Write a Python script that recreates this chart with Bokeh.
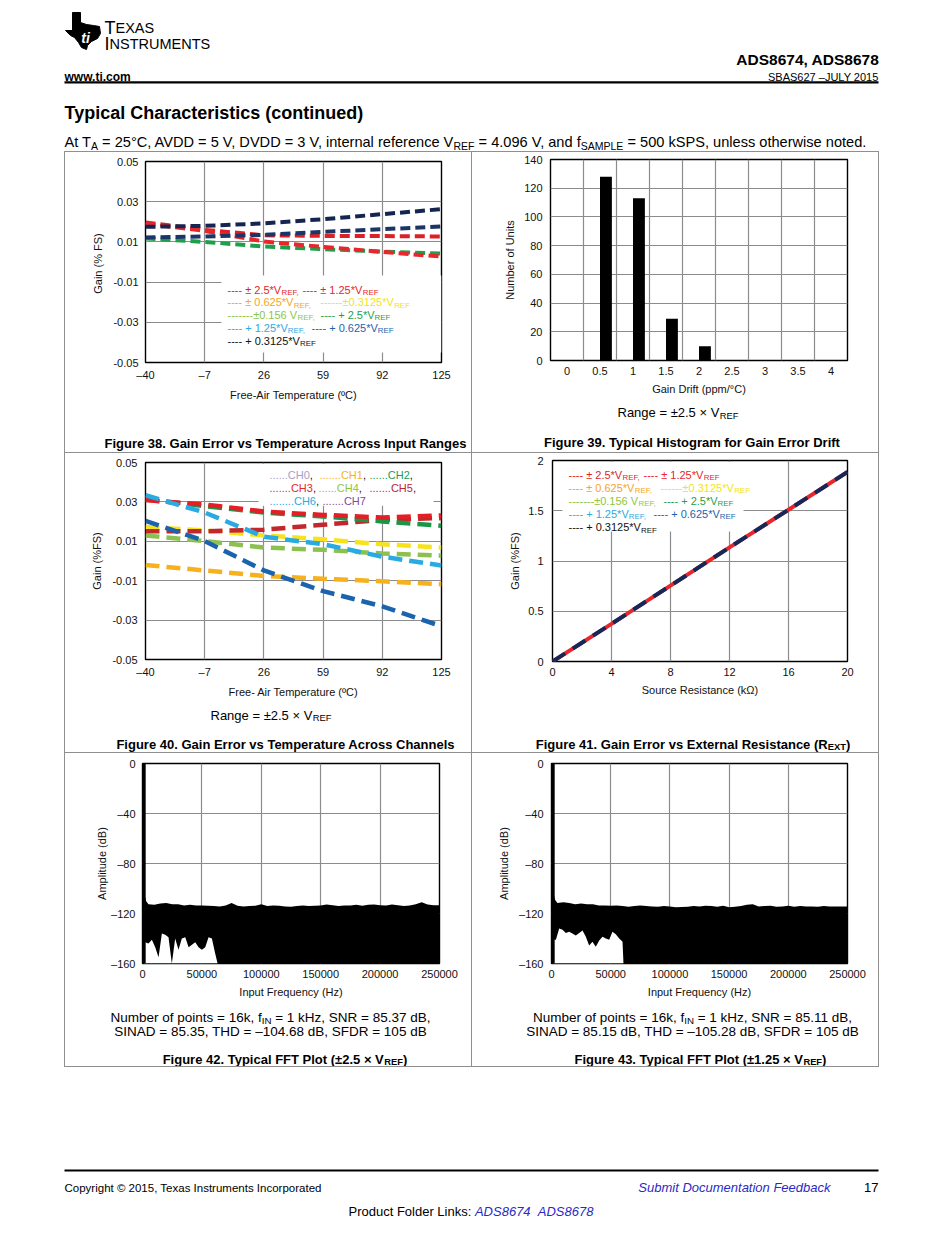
from bokeh.plotting import figure
from bokeh.models import Range1d, FixedTicker, ColumnDataSource, Spacer
from bokeh.layouts import column, row
from bokeh.transform import dodge
from bokeh.core.properties import value
from bokeh.embed import file_html
from bokeh.resources import INLINE

FONT = "Liberation Sans"
INK = "#111111"
GRID_C = "#8c8c8c"
RULE_C = "#8f8f8f"
LINK_C = "#2a2ac4"

# ============================== DATA ==============================
# Fig 38 - Gain error vs temperature across input ranges (%FS)
TEMP_C = [-40, -7, 26, 59, 92, 125]
TEMP_TICK_LABELS = ["\u201340", "\u20137", "26", "59", "92", "125"]
GAIN_TICKS = [-0.05, -0.03, -0.01, 0.01, 0.03, 0.05]
GAIN_TICK_LABELS = ["-0.05", "-0.03", "-0.01", "0.01", "0.03", "0.05"]
G38_BIP_2P5 = [0.0197, 0.0160, 0.0133, 0.0130, 0.0129, 0.0127]
G38_BIP_1P25 = [0.0190, 0.0155, 0.0102, 0.0075, 0.0050, 0.0027]
G38_UNI_2P5 = [0.0117, 0.0100, 0.0077, 0.0064, 0.0052, 0.0042]
G38_UNI_0P625 = [0.0122, 0.0127, 0.0135, 0.0150, 0.0163, 0.0177]
G38_UNI_0P3125 = [0.0175, 0.0180, 0.0192, 0.0213, 0.0238, 0.0263]

RANGE_LEG_MAIN = ["---- \u00b1 2.5*V", "---- \u00b1 1.25*V", "---- \u00b1 0.625*V", "------\u00b10.3125*V",
                  "-------\u00b10.156 V", "---- + 2.5*V", "---- + 1.25*V", "---- + 0.625*V", "---- + 0.3125*V"]
RANGE_LEG_SUB = ["REF,", "REF", "REF,", "REF", "REF,", "REF", "REF,", "REF", "REF"]
RANGE_LEG_COLORS = ["#dd1f26", "#e8262b", "#f5a524", "#f3e21c", "#8dc63f", "#1f9f4a", "#2fa9e1", "#1f63ad", "#111111"]

# Fig 39 - histogram of gain error drift
DRIFT_BINS = [0, 0.5, 1, 1.5, 2, 2.5, 3, 3.5, 4]
DRIFT_TICK_LABELS = ["0", "0.5", "1", "1.5", "2", "2.5", "3", "3.5", "4"]
DRIFT_COUNTS = [0, 128, 113, 29, 10, 0, 0, 0, 0]
COUNT_TICKS = [0, 20, 40, 60, 80, 100, 120, 140]
COUNT_TICK_LABELS = ["0", "20", "40", "60", "80", "100", "120", "140"]

# Fig 40 - Gain error vs temperature across channels (%FS)
G40_CH0 = [0.0173, 0.0155, 0.0130, 0.0110, 0.0085, 0.0068]
G40_CH1 = [-0.0020, -0.0048, -0.0076, -0.0090, -0.0103, -0.0118]
G40_CH2 = [0.0312, 0.0279, 0.0246, 0.0226, 0.0201, 0.0179]
G40_CH3 = [0.0309, 0.0287, 0.0251, 0.0234, 0.0221, 0.0231]
G40_CH4 = [0.0130, 0.0101, 0.0068, 0.0057, 0.0038, 0.0027]
G40_CH5 = [0.0151, 0.0151, 0.0159, 0.0184, 0.0209, 0.0218]
G40_CH6 = [0.0334, 0.0246, 0.0123, 0.0085, 0.0022, -0.0023]
G40_CH7 = [0.0204, 0.0101, -0.0048, -0.0153, -0.0230, -0.0331]
CH_NAMES = ["CH0", "CH1", "CH2", "CH3", "CH4", "CH5", "CH6", "CH7"]
CH_LINE_COLORS = ["#f7e31d", "#f6b11c", "#1a9647", "#e41e26", "#8cc152", "#c1272d", "#29abe2", "#1c63ad"]
CH_LEG_COLORS = ["#a3a0c9", "#f2b41c", "#1a9c55", "#e8262b", "#8cc63f", "#c0262d", "#29abe2", "#7d4a9e"]
CH_LEG_DOTS = ["......", ".......", "......", ".......", "......", ".......", "........", "......."]

# Fig 41 - Gain error vs external resistance
RSRC_KOHM = [0, 4, 8, 12, 16, 20]
RSRC_TICK_LABELS = ["0", "4", "8", "12", "16", "20"]
G41_BIP_2P5 = [0.0, 0.375, 0.755, 1.135, 1.51, 1.885]
G41_UNI_0P3125 = [0.0, 0.375, 0.755, 1.135, 1.51, 1.885]
G41_TICKS = [0, 0.5, 1, 1.5, 2]
G41_TICK_LABELS = ["0", "0.5", "1", "1.5", "2"]

# Fig 42 / 43 - FFT (envelopes)
FREQ_TICKS = [0, 50000, 100000, 150000, 200000, 250000]
FREQ_TICK_LABELS = ["0", "50000", "100000", "150000", "200000", "250000"]
DB_TICKS = [-160, -120, -80, -40, 0]
DB_TICK_LABELS = ["\u2013160", "\u2013120", "\u201380", "\u201340", "0"]
FIN_HZ = [1000]
FUND_DB = [0]
FFT_UP_HZ = [1500, 3000, 5000, 10000, 15000, 20000, 25000, 30000, 35000, 40000, 45000, 50000,
             55000, 60000, 65000, 70000, 75000, 80000, 85000, 90000, 95000, 100000, 105000, 110000,
             115000, 120000, 125000, 130000, 135000, 140000, 145000, 150000, 155000, 160000, 165000,
             170000, 175000, 180000, 185000, 190000, 195000, 200000, 205000, 210000, 215000, 220000,
             225000, 230000, 235000, 240000, 245000, 250000]
F42_UP_DB = [-104, -110, -112.5, -113, -112, -111.5, -112.5, -112.5, -113.5, -113, -113.5, -113.5,
             -113.8, -114, -114.3, -113.5, -111.5, -113.8, -114.3, -114, -113.8, -112.5, -114, -113.5,
             -113.8, -114.3, -114.5, -114, -113.5, -114, -113.8, -113.5, -112.7, -113.3, -114,
             -113.5, -113.5, -113, -113.8, -113, -112.7, -113.3, -113.5, -112.7, -113.3, -114,
             -113.5, -112.5, -111, -112.7, -113.3, -113.3]
F43_UP_DB = [-103, -109, -111.5, -111, -111.5, -112.5, -112, -112.5, -112.5, -113.5, -113.5, -113.8,
             -113.5, -114, -114.5, -114, -113.5, -114, -114.3, -114.5, -114, -114.3, -115, -114.8,
             -114.5, -114, -114.3, -113.8, -114, -114.5, -113.8, -115, -114.5, -114, -113,
             -112.5, -114.3, -114, -113.8, -114.5, -114.3, -113.8, -114.5, -114, -114.3, -114.3,
             -114.5, -114, -114.3, -114.3, -114.3, -114.3]
F42_LO_HZ = [1500, 2200, 5000, 7900, 10700, 13500, 16300, 19100, 21900, 24700, 27500, 30300,
             33100, 36000, 38800, 41600, 44400, 47200, 50000, 52800, 55600, 58400, 61200, 63200]
F42_LO_DB = [-143, -143, -144, -141, -147, -155, -136, -137, -139, -160, -140, -149,
             -140, -139, -147, -145, -143, -147, -149, -147, -139, -140, -152, -160]
F43_LO_HZ = [1500, 3700, 6500, 9300, 12100, 14900, 17700, 20500, 23400, 26200, 29000, 31800,
             34600, 37400, 40300, 43100, 45900, 48700, 51500, 54300, 57200, 60000, 60800]
F43_LO_DB = [-141, -141, -132, -133, -135.5, -134.5, -136, -137.5, -135.5, -133.5, -138.5, -145.5,
             -142.5, -146.5, -141.5, -138.5, -140, -141, -134.5, -136.5, -140, -142.5, -160]

# ============================== TEXT METRICS (Arial / Liberation Sans) ==============================
_ASCII = " !\"#$%&'()*+,-./0123456789:;<=>?@ABCDEFGHIJKLMNOPQRSTUVWXYZ[\\]^_`abcdefghijklmnopqrstuvwxyz{|}~"
_REG = ([278, 278, 355, 556, 556, 889, 667, 191, 333, 333, 389, 584, 278, 333, 278, 278] + [556] * 10 +
        [278, 278, 584, 584, 584, 556, 1015] +
        [667, 667, 722, 722, 667, 611, 778, 722, 278, 500, 667, 556, 833, 722, 778, 667, 778, 722, 667, 611,
         722, 667, 944, 667, 667, 611] + [278, 278, 278, 469, 556, 333] +
        [556, 556, 500, 556, 556, 278, 556, 556, 222, 222, 500, 222, 833, 556, 556, 556, 556, 333, 500, 278,
         556, 500, 722, 500, 500, 500] + [334, 260, 334, 584])
_BOLD = ([278, 333, 474, 556, 556, 889, 722, 238, 333, 333, 389, 584, 278, 333, 278, 278] + [556] * 10 +
         [333, 333, 584, 584, 584, 611, 975] +
         [722, 722, 722, 722, 667, 611, 778, 722, 278, 556, 722, 611, 833, 722, 778, 667, 778, 722, 667, 611,
          722, 667, 944, 667, 667, 611] + [333, 278, 333, 584, 556, 333] +
         [556, 611, 556, 611, 556, 333, 611, 611, 278, 278, 556, 278, 889, 611, 611, 611, 611, 389, 556, 333,
          611, 556, 778, 556, 556, 500] + [389, 280, 389, 584])
_EXTRA = {"\u00b0": 400, "\u00ba": 365, "\u00b1": 584, "\u00d7": 584, "\u2013": 556, "\u03a9": 768, "\u00a9": 737}
REG_W = dict(zip(_ASCII, _REG)); REG_W.update(_EXTRA)
BOLD_W = dict(zip(_ASCII, _BOLD)); BOLD_W.update(_EXTRA)
KERN = {"AT": -74, "AV": -74, "AW": -37, "AY": -74, "Av": -18, "Aw": -18, "Ay": -18,
        "F,": -111, "F.": -111, "FA": -55, "LT": -74, "LV": -74, "LW": -74, "LY": -74, "Ly": -37,
        "P,": -129, "P.": -129, "PA": -74, "RT": -18, "RV": -18, "RW": -18, "RY": -18,
        "T,": -111, "T.": -111, "T-": -55, "TA": -74, "Ta": -111, "Tc": -111, "Te": -111, "Ti": -37,
        "To": -111, "Tr": -37, "Ts": -111, "Tu": -37, "Tw": -55, "Ty": -55,
        "V,": -92, "V.": -92, "V-": -55, "VA": -74, "Va": -74, "Ve": -55, "Vi": -18, "Vo": -55,
        "Vr": -37, "Vu": -37, "Vy": -37, "W,": -55, "W.": -55, "WA": -37, "Wa": -37, "We": -18,
        "Y,": -129, "Y.": -129, "YA": -74, "Ya": -74, "Ye": -92, "Yo": -92,
        "r,": -55, "r.": -55, "v,": -74, "v.": -74, "w,": -55, "w.": -55, "y,": -74, "y.": -74,
        "11": -74, " A": -55, "A ": -55, " T": -18, " Y": -18}
SUB_SCALE = 0.72
SUB_DROP = 0.25


def tw(s, size, bold=False):
    tbl = BOLD_W if bold else REG_W
    w = sum(tbl.get(ch, 556) for ch in s)
    w += sum(KERN.get(s[i:i + 2], 0) for i in range(len(s) - 1))
    return w * size / 1000.0


def rich(parts, x, y, size, align="left", color="#000000", style="normal"):
    items, total = [], 0.0
    for part in parts:
        t = part[0]
        sub = bool(part[1]) if len(part) > 1 else False
        c = part[2] if len(part) > 2 and part[2] else color
        st = part[3] if len(part) > 3 and part[3] else style
        fs = size * SUB_SCALE if sub else size
        bold = "bold" in st
        w = tw(t, fs, bold)
        items.append((t, sub, c, st, fs, bold, w))
        total += w
    cx = x - total / 2.0 if align == "center" else (x - total if align == "right" else x)
    out = []
    for t, sub, c, st, fs, bold, w in items:
        core = t.strip(" ")
        lead = len(t) - len(t.lstrip(" "))
        if core:
            out.append(dict(x=cx + tw(" " * lead, fs, bold), y=y + (size * SUB_DROP if sub else 0.0),
                            text=core, size="%.2fpx" % fs, style=st, color=c))
        cx += w
    return out


def put_text(p, rows, mx=None, my=None):
    d = dict(x=[], y=[], text=[], size=[], style=[], color=[])
    for r in rows:
        d["x"].append(mx(r["x"]) if mx else r["x"])
        d["y"].append(my(r["y"]) if my else r["y"])
        for k in ("text", "size", "style", "color"):
            d[k].append(r[k])
    p.text(x="x", y="y", text="text", source=ColumnDataSource(d), text_font=value(FONT),
           text_font_size="size", text_font_style="style", text_color="color",
           text_align="left", text_baseline="alphabetic")


def no_align(p):
    if "frame_align" in p.properties():
        p.frame_align = False
    return p


def canvas(x0, y0, w, h):
    p = figure(width=w, height=h, x_range=Range1d(x0, x0 + w), y_range=Range1d(y0 + h, y0),
               x_axis_type=None, y_axis_type=None, tools="", toolbar_location=None,
               output_backend="svg", min_border=0, outline_line_color=None,
               background_fill_color="white", border_fill_color="white")
    return no_align(p)


def mapper(frame, xr, yr):
    fl, ft, fw, fh = frame
    return (lambda px: xr[0] + (px - fl) / fw * (xr[1] - xr[0]),
            lambda py: yr[1] - (py - ft) / fh * (yr[1] - yr[0]))


def make_chart(cell, size, frame, xr, yr, xt, xl, yt, yl, xg, yg, xtitle, ytitle,
               ystand=(7, 6), xstand=(6, 5)):
    cx, cy = cell
    w, h = size
    fl, ft, fw, fh = frame
    left, top = fl - cx, ft - cy
    right, bottom = w - left - fw, h - top - fh
    p = figure(width=w, height=h, x_range=Range1d(*xr), y_range=Range1d(*yr), tools="",
               toolbar_location=None, output_backend="svg",
               min_border_left=left, min_border_right=right, min_border_top=top, min_border_bottom=bottom,
               background_fill_color="white", border_fill_color="white",
               outline_line_color="black", outline_line_width=1.4)
    no_align(p)
    p.xaxis.ticker = FixedTicker(ticks=xt)
    p.xaxis.major_label_overrides = dict(zip(xt, xl))
    p.yaxis.ticker = FixedTicker(ticks=yt)
    p.yaxis.major_label_overrides = dict(zip(yt, yl))
    p.xaxis.axis_label = xtitle
    p.yaxis.axis_label = ytitle
    for ax in list(p.xaxis) + list(p.yaxis):
        ax.axis_line_color = None
        ax.major_tick_line_color = None
        ax.minor_tick_line_color = None
        ax.major_tick_in = 0
        ax.major_tick_out = 0
        ax.minor_tick_in = 0
        ax.minor_tick_out = 0
        ax.major_label_text_font = FONT
        ax.major_label_text_font_size = "11px"
        ax.major_label_text_color = INK
        ax.axis_label_text_font = FONT
        ax.axis_label_text_font_size = "11px"
        ax.axis_label_text_font_style = "normal"
        ax.axis_label_text_color = INK
    p.yaxis.major_label_standoff = ystand[0]
    p.yaxis.axis_label_standoff = ystand[1]
    p.xaxis.major_label_standoff = xstand[0]
    p.xaxis.axis_label_standoff = xstand[1]
    p.xgrid.ticker = FixedTicker(ticks=xg)
    p.ygrid.ticker = FixedTicker(ticks=yg)
    for g in list(p.xgrid) + list(p.ygrid):
        g.grid_line_color = GRID_C
        g.grid_line_width = 1.2
    return p, mapper(frame, xr, yr)


def range_legend(origin, pitch, col2):
    ox, oy = origin
    rows = []
    layout = [[0, 1], [2, 3], [4, 5], [6, 7], [8]]
    for r, idxs in enumerate(layout):
        y = oy + r * pitch
        for j, i in enumerate(idxs):
            x = ox + (col2[r] if j == 1 else 0)
            rows += rich([(RANGE_LEG_MAIN[i], False, RANGE_LEG_COLORS[i]),
                          (RANGE_LEG_SUB[i], True, RANGE_LEG_COLORS[i])], x, y, 11)
    return rows


# ============================== HEADER ==============================
hdr = canvas(8, 8, 934, 143)
TI_LOGO_X = [72, 80, 80, 86, 93, 99, 100, 97, 91, 87, 86, 81, 78, 74, 70, 65, 72]
TI_LOGO_Y = [12, 12, 22, 24, 25, 26, 33, 38, 41, 45, 49, 47, 42, 37, 35, 30, 30]
hdr.patch(TI_LOGO_X, TI_LOGO_Y, color="black")
hdr.line([64, 878], [81.8, 81.8], line_width=2.2, color="black")
h_rows = []
h_rows += rich([("ti", False, "white", "bold italic")], 85, 37, 14, align="center")
h_rows += rich([("T",)], 104, 27, 18)
h_rows += rich([("EXAS",)], 104 + tw("T", 18), 27, 14.5)
h_rows += rich([("I",)], 104, 43, 18)
h_rows += rich([("NSTRUMENTS",)], 104 + tw("I", 18), 43, 14.5)
h_rows += rich([("ADS8674, ADS8678",)], 878, 59, 15.5, align="right", style="bold")
h_rows += rich([("www.ti.com",)], 64, 76.5, 12, style="bold")
h_rows += rich([("SBAS627 \u2013JULY 2015",)], 878, 76.5, 11, align="right")
h_rows += rich([("Typical Characteristics (continued)",)], 64, 112.5, 18, style="bold")
h_rows += rich([("At T",), ("A", True), (" = 25\u00b0C, AVDD = 5 V, DVDD = 3 V, internal reference V",),
                ("REF", True), (" = 4.096 V, and f",), ("SAMPLE", True),
                (" = 500 kSPS, unless otherwise noted.",)], 64, 141.5, 14.6)
put_text(hdr, h_rows)

# ============================== FIG 38 ==============================
XR_T, YR_G = (-40, 125), (-0.05, 0.05)
c38, (mx38, my38) = make_chart((65, 152), (406, 253), (145, 161, 296, 201), XR_T, YR_G,
                               TEMP_C, TEMP_TICK_LABELS, GAIN_TICKS, GAIN_TICK_LABELS,
                               TEMP_C[1:-1], GAIN_TICKS[1:-1], "Free-Air Temperature (\u00baC)", "Gain  (% FS)")
c38.quad(left=mx38(221), right=mx38(441), top=my38(275), bottom=my38(352), fill_color="white", line_color=None)
for ys, col in [(G38_BIP_2P5, "#dd1f26"), (G38_UNI_2P5, "#1f9f4a"), (G38_BIP_1P25, "#e8262b"),
                (G38_UNI_0P625, "#1b3566"), (G38_UNI_0P3125, "#14254f")]:
    c38.line(TEMP_C, ys, line_color=col, line_width=4, line_dash="10 5")
put_text(c38, range_legend((227, 289), 12.8, [75, 93, 93, 84]), mx38, my38)
t38 = canvas(65, 405, 406, 47)
put_text(t38, rich([("Figure 38. Gain Error vs Temperature Across Input Ranges",)], 284.5, 442.5, 13,
                   align="center", style="bold"))

# ============================== FIG 39 ==============================
c39, _ = make_chart((472, 152), (406, 248), (550, 159, 297, 201), (-0.25, 4.25), (0, 140),
                    DRIFT_BINS, DRIFT_TICK_LABELS, COUNT_TICKS, COUNT_TICK_LABELS,
                    [b + 0.25 for b in DRIFT_BINS[:-1]], COUNT_TICKS[1:-1],
                    "Gain Drift (ppm/\u00b0C)", "Number of Units", ystand=(8, 5))
c39.vbar(x=dodge("bin", 0.09, range=c39.x_range), width=0.18, top="count",
         source=ColumnDataSource(dict(bin=DRIFT_BINS, count=DRIFT_COUNTS)),
         fill_color="black", line_color=None)
t39 = canvas(472, 400, 406, 52)
t39_rows = rich([("Range = \u00b12.5 \u00d7 V",), ("REF", True)], 677.5, 412, 13, align="center")
t39_rows += rich([("Figure 39. Typical Histogram for Gain Error Drift",)], 691.5, 441.5, 13,
                 align="center", style="bold")
put_text(t39, t39_rows)

# ============================== FIG 40 ==============================
c40, (mx40, my40) = make_chart((65, 453), (406, 247), (145, 462, 296, 200), XR_T, YR_G,
                               TEMP_C, TEMP_TICK_LABELS, GAIN_TICKS, GAIN_TICK_LABELS,
                               TEMP_C[1:-1], GAIN_TICKS[1:-1], "Free- Air Temperature (\u00baC)", "Gain (%FS)",
                               ystand=(8, 6))
c40.quad(left=mx40(258), right=mx40(433), top=my40(463.5), bottom=my40(506), fill_color="white", line_color=None)
CH_SERIES = [G40_CH0, G40_CH1, G40_CH2, G40_CH3, G40_CH4, G40_CH5, G40_CH6, G40_CH7]
for i in [1, 4, 0, 5, 2, 3, 6, 7]:
    c40.line(TEMP_C, CH_SERIES[i], line_color=CH_LINE_COLORS[i], line_width=4.5, line_dash="14 7")
leg40 = []
CH_LEG_LAYOUT = [[0, 1, 2], [3, 4, 5], [6, 7]]
CH_LEG_X = [[269, 319, 369], [269, 318, 369], [269, 322]]
CH_LEG_Y = [475, 488, 501]
for r, idxs in enumerate(CH_LEG_LAYOUT):
    for j, i in enumerate(idxs):
        parts = [(CH_LEG_DOTS[i] + CH_NAMES[i], False, CH_LEG_COLORS[i])]
        if i != 7:
            parts.append((",", False, INK))
        leg40 += rich(parts, CH_LEG_X[r][j], CH_LEG_Y[r], 11)
put_text(c40, leg40, mx40, my40)
t40 = canvas(65, 700, 406, 52)
t40_rows = rich([("Range = \u00b12.5 \u00d7 V",), ("REF", True)], 270.5, 714.5, 13, align="center")
t40_rows += rich([("Figure 40. Gain Error vs Temperature Across Channels",)], 284.5, 743.5, 13,
                 align="center", style="bold")
put_text(t40, t40_rows)

# ============================== FIG 41 ==============================
c41, (mx41, my41) = make_chart((472, 453), (406, 247), (552, 460, 295, 201), (0, 20), (0, 2),
                               RSRC_KOHM, RSRC_TICK_LABELS, G41_TICKS, G41_TICK_LABELS,
                               RSRC_KOHM[1:-1], G41_TICKS[1:-1], "Source Resistance (k\u03a9)", "Gain (%FS)",
                               ystand=(9, 4))
c41.quad(left=mx41(562), right=mx41(743), top=my41(461.5), bottom=my41(531), fill_color="white", line_color=None)
c41.line(RSRC_KOHM, G41_BIP_2P5, line_color="#e8262b", line_width=4)
c41.line(RSRC_KOHM, G41_UNI_0P3125, line_color="#14285a", line_width=4, line_dash="15 9")
put_text(c41, range_legend((568, 474), 13.2, [75, 92, 95, 85]), mx41, my41)
t41 = canvas(472, 700, 406, 52)
put_text(t41, rich([("Figure 41. Gain Error vs External Resistance (R",), ("EXT", True), (")",)],
                   692.5, 743.5, 13, align="center", style="bold"))


# ============================== FIG 42 / 43 ==============================
def fft_chart(cell, frame, up_db, lo_hz, lo_db, ystand):
    p, _ = make_chart(cell, (406, 249), frame, (0, 250000), (-160, 0),
                      FREQ_TICKS, FREQ_TICK_LABELS, DB_TICKS, DB_TICK_LABELS,
                      FREQ_TICKS[1:-1], DB_TICKS[1:-1], "Input Frequency (Hz)", "Amplitude (dB)",
                      ystand=ystand)
    floor = p.y_range.start
    p.varea(x=FFT_UP_HZ, y1=floor, y2=up_db, fill_color="black")
    p.varea(x=lo_hz, y1=floor, y2=lo_db, fill_color="white")
    p.segment(x0=FIN_HZ, y0=[floor], x1=FIN_HZ, y1=FUND_DB, line_color="black", line_width=4)
    return p


c42 = fft_chart((65, 753), (142, 763, 297, 200), F42_UP_DB, F42_LO_HZ, F42_LO_DB, (7, 0))
c43 = fft_chart((472, 753), (551, 763, 296, 200), F43_UP_DB, F43_LO_HZ, F43_LO_DB, (8, 6))

t42 = canvas(65, 1002, 406, 64)
t42_rows = rich([("Number of points = 16k, f",), ("IN", True), (" = 1 kHz, SNR = 85.37 dB,",)],
                270, 1016.5, 13.5, align="center")
t42_rows += rich([("SINAD = 85.35, THD = \u2013104.68 dB, SFDR = 105 dB",)], 270, 1031, 13.5, align="center")
t42_rows += rich([("Figure 42. Typical FFT Plot (\u00b12.5 \u00d7 V",), ("REF", True), (")",)],
                 284.5, 1058.5, 13, align="center", style="bold")
put_text(t42, t42_rows)

t43 = canvas(472, 1002, 406, 64)
t43_rows = rich([("Number of points = 16k, f",), ("IN", True), (" = 1 kHz, SNR = 85.11 dB,",)],
                692, 1016.5, 13.5, align="center")
t43_rows += rich([("SINAD = 85.15 dB, THD = \u2013105.28 dB, SFDR = 105 dB",)], 692, 1031, 13.5, align="center")
t43_rows += rich([("Figure 43. Typical FFT Plot (\u00b11.25 \u00d7 V",), ("REF", True), (")",)],
                 700, 1058.5, 13, align="center", style="bold")
put_text(t43, t43_rows)

# ============================== FOOTER ==============================
ftr = canvas(8, 1067, 934, 158)
ftr.line([64, 878], [1170, 1170], line_width=2.2, color="black")
f_rows = rich([("Copyright \u00a9 2015, Texas Instruments Incorporated",)], 64, 1187, 11.5)
f_rows += rich([("Submit Documentation Feedback", False, LINK_C, "italic")], 830, 1187, 13, align="right")
f_rows += rich([("17",)], 878, 1187, 13, align="right")
f_rows += rich([("Product Folder Links: ",), ("ADS8674", False, LINK_C, "italic"), ("  ",),
                ("ADS8678", False, LINK_C, "italic")], 348, 1211, 13)
put_text(ftr, f_rows)


# ============================== PAGE LAYOUT ==============================
def vline(h):
    return Spacer(width=1, height=h, styles={"background-color": RULE_C})


def hline():
    return row(Spacer(width=56, height=1), Spacer(width=815, height=1, styles={"background-color": RULE_C}))


def table_row(h, left_cell, right_cell):
    return row(Spacer(width=56, height=h), vline(h), left_cell, vline(h), right_cell, vline(h))


page = column(
    hdr,
    hline(),
    table_row(300, column(c38, t38), column(c39, t39)),
    hline(),
    table_row(299, column(c40, t40), column(c41, t41)),
    hline(),
    table_row(313, column(c42, t42), column(c43, t43)),
    hline(),
    ftr,
)
root = column(Spacer(width=942, height=8), row(Spacer(width=8, height=1225), page))

open("out.html", "w").write(file_html(root, INLINE, title="ADS8674, ADS8678 Typical Characteristics"))
